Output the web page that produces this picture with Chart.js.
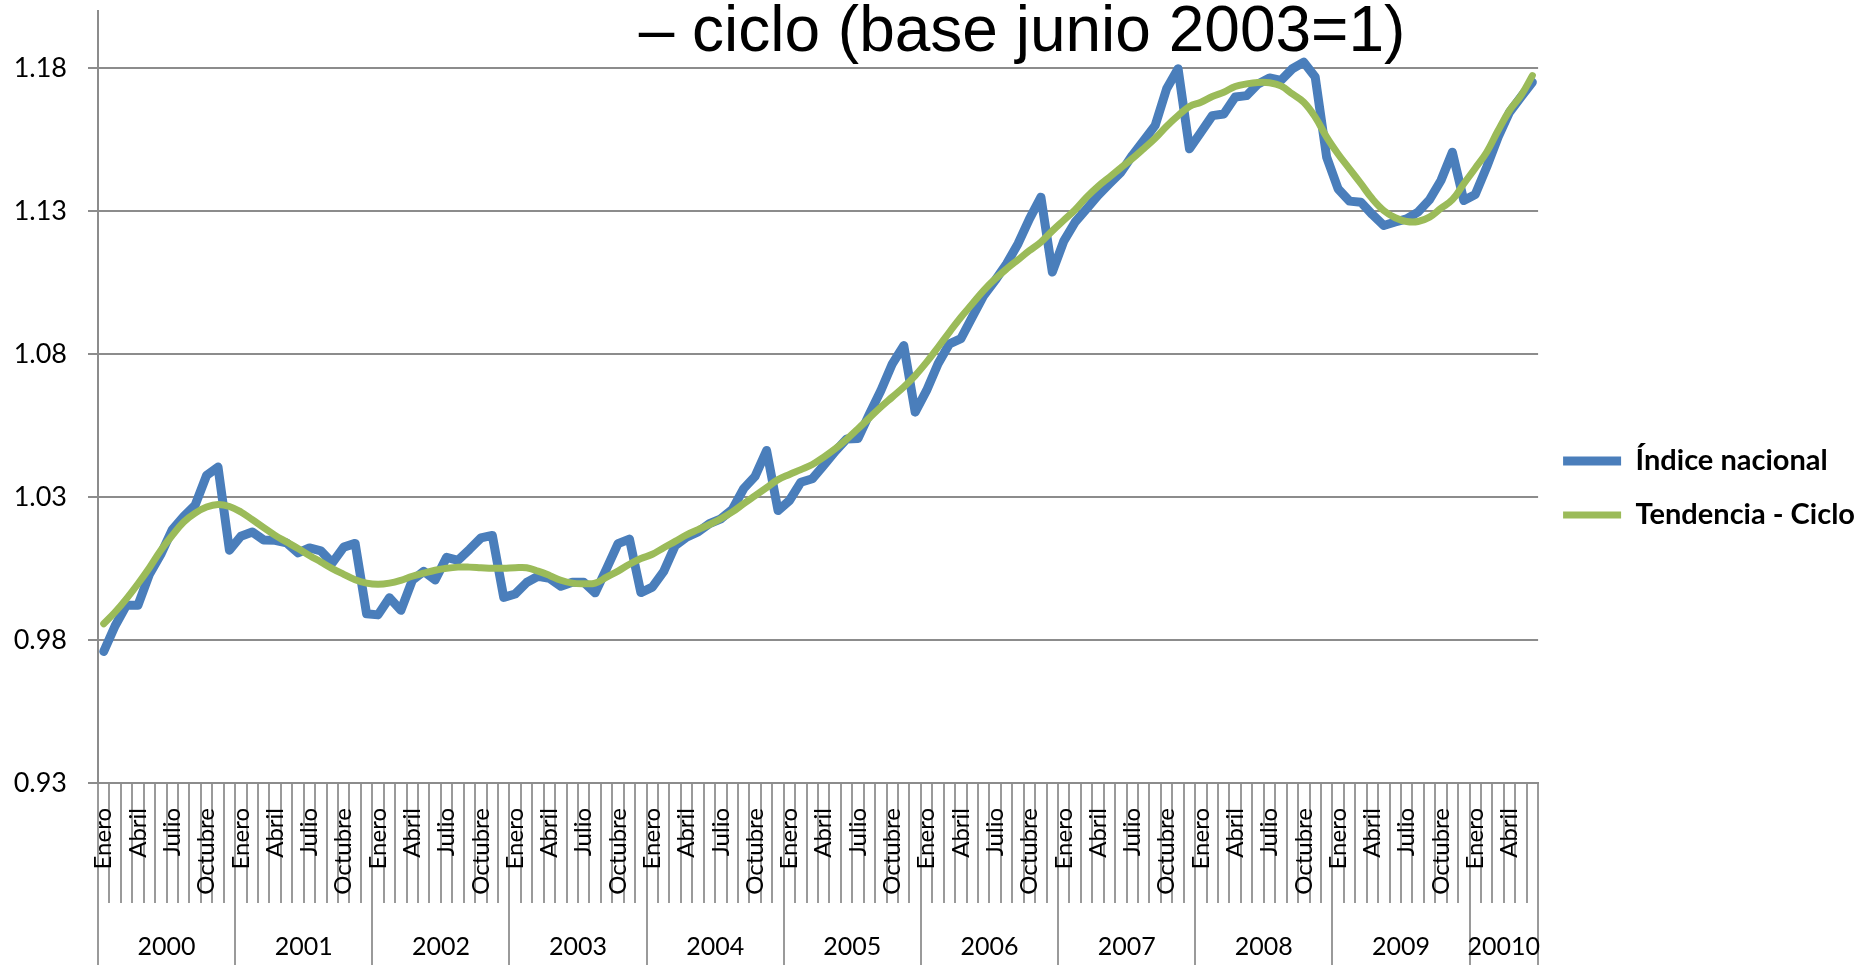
<!DOCTYPE html>
<html lang="es">
<head>
<meta charset="utf-8">
<title>Índice nacional y tendencia – ciclo</title>
<script src="https://cdn.jsdelivr.net/npm/chart.js@4.4.1/dist/chart.umd.min.js"></script>
<style>
  html, body { margin: 0; padding: 0; background: #fff; }
  #grafica { display: block; }
</style>
</head>
<body>
<canvas id="grafica" width="1868" height="965"></canvas>
<script>
var titulo = '– ciclo (base junio 2003=1)';

var anios = ['2000', '2001', '2002', '2003', '2004', '2005', '2006', '2007', '2008', '2009', '20010'];
var mesesPorAnio = [12, 12, 12, 12, 12, 12, 12, 12, 12, 12, 6];
var meses = ['Enero', 'Febrero', 'Marzo', 'Abril', 'Mayo', 'Junio', 'Julio',
             'Agosto', 'Septiembre', 'Octubre', 'Noviembre', 'Diciembre'];
var mesesVisibles = ['Enero', 'Abril', 'Julio', 'Octubre'];

var indiceNacional = [
    0.9760, 0.9850, 0.9922, 0.9922, 1.0030, 1.0100, 1.0186, 1.0232, 1.0272, 1.0376, 1.0405, 1.0114,
    1.0163, 1.0178, 1.0150, 1.0149, 1.0140, 1.0105, 1.0122, 1.0112, 1.0070, 1.0125, 1.0138, 0.9892,
    0.9888, 0.9948, 0.9904, 1.0009, 1.0040, 1.0010, 1.0089, 1.0079, 1.0117, 1.0157, 1.0166, 0.9949,
    0.9961, 1.0001, 1.0023, 1.0016, 0.9988, 1.0002, 1.0002, 0.9965, 1.0050, 1.0137, 1.0153, 0.9966,
    0.9985, 1.0040, 1.0130, 1.0160, 1.0178, 1.0207, 1.0224, 1.0257, 1.0330, 1.0373, 1.0463, 1.0253,
    1.0288, 1.0352, 1.0364, 1.0411, 1.0460, 1.0503, 1.0505, 1.0591, 1.0673, 1.0766, 1.0830, 1.0597,
    1.0673, 1.0766, 1.0836, 1.0854, 1.0930, 1.1005, 1.1058, 1.1116, 1.1186, 1.1273, 1.1349, 1.1087,
    1.1195, 1.1262, 1.1308, 1.1355, 1.1396, 1.1436, 1.1495, 1.1547, 1.1600, 1.1728, 1.1798, 1.1518,
    1.1576, 1.1634, 1.1640, 1.1699, 1.1704, 1.1745, 1.1766, 1.1757, 1.1798, 1.1821, 1.1769, 1.1489,
    1.1378, 1.1335, 1.1331, 1.1288, 1.1250, 1.1262, 1.1273, 1.1297, 1.1340, 1.1407, 1.1506, 1.1337,
    1.1358, 1.1454, 1.1559, 1.1646, 1.1699, 1.1751
];

var tendenciaCiclo = [
    0.9857, 0.9898, 0.9945, 0.9997, 1.0053, 1.0114, 1.0166, 1.0213, 1.0244, 1.0265, 1.0274, 1.0267,
    1.0248, 1.0221, 1.0193, 1.0166, 1.0143, 1.0120, 1.0096, 1.0073, 1.0050, 1.0030, 1.0011, 0.9999,
    0.9995, 0.9999, 1.0009, 1.0023, 1.0034, 1.0044, 1.0051, 1.0055, 1.0055, 1.0053, 1.0051, 1.0051,
    1.0053, 1.0053, 1.0041, 1.0026, 1.0009, 0.9999, 0.9997, 0.9999, 1.0020, 1.0041, 1.0065, 1.0085,
    1.0100, 1.0123, 1.0145, 1.0168, 1.0186, 1.0204, 1.0224, 1.0248, 1.0277, 1.0305, 1.0333, 1.0361,
    1.0379, 1.0396, 1.0414, 1.0440, 1.0469, 1.0502, 1.0539, 1.0577, 1.0615, 1.0650, 1.0685, 1.0725,
    1.0772, 1.0824, 1.0877, 1.0929, 1.0976, 1.1023, 1.1063, 1.1098, 1.1130, 1.1162, 1.1192, 1.1231,
    1.1268, 1.1305, 1.1349, 1.1387, 1.1419, 1.1452, 1.1484, 1.1519, 1.1555, 1.1597, 1.1634, 1.1666,
    1.1681, 1.1701, 1.1716, 1.1736, 1.1745, 1.1750, 1.1749, 1.1738, 1.1710, 1.1681, 1.1629, 1.1559,
    1.1500, 1.1448, 1.1396, 1.1343, 1.1302, 1.1277, 1.1264, 1.1264, 1.1279, 1.1310, 1.1340, 1.1396,
    1.1450, 1.1506, 1.1582, 1.1652, 1.1704, 1.1774
];

var ticksY = [0.93, 0.98, 1.03, 1.08, 1.13, 1.18];

// one label per month, built from the years
var etiquetas = [];
var limitesAnio = [0];
var centrosAnio = {};
var acum = 0;
anios.forEach(function (anio, k) {
    for (var m = 0; m < mesesPorAnio[k]; m++) {
        etiquetas.push(meses[m]);
    }
    centrosAnio[acum + mesesPorAnio[k] / 2] = anio;
    acum += mesesPorAnio[k];
    limitesAnio.push(acum);
});

var gris = '#8c8c8c';

// title is cut at the top in the original, only its second line shows
var tituloPlugin = {
    id: 'titulo',
    afterDraw: function (chart) {
        var ctx = chart.ctx;
        ctx.save();
        ctx.font = '64px "Liberation Sans", Arial, sans-serif';
        ctx.fillStyle = '#000';
        ctx.textAlign = 'center';
        ctx.textBaseline = 'alphabetic';
        ctx.fillText(titulo, 1022, 51);
        ctx.restore();
    }
};

Chart.defaults.font.family = 'Lato';
Chart.defaults.color = '#000';

var ctx = document.getElementById('grafica').getContext('2d');
var grafica = new Chart(ctx, {
    type: 'line',
    data: {
        labels: etiquetas,
        datasets: [{
            label: 'Índice nacional',
            data: indiceNacional,
            borderColor: '#4a7ebb',
            backgroundColor: '#4a7ebb',
            borderWidth: 9,
            borderJoinStyle: 'round',
            borderCapStyle: 'round',
            pointRadius: 0,
            tension: 0,
            order: 2
        }, {
            label: 'Tendencia - Ciclo',
            data: tendenciaCiclo,
            borderColor: '#9bbb59',
            backgroundColor: '#9bbb59',
            borderWidth: 7,
            borderJoinStyle: 'round',
            borderCapStyle: 'round',
            pointRadius: 0,
            tension: 0.4,
            order: 1
        }]
    },
    options: {
        responsive: false,
        animation: false,
        devicePixelRatio: 1,
        layout: {
            padding: {top: 11, left: 0, right: 3, bottom: 0}
        },
        scales: {
            y: {
                min: 0.93,
                max: 1.2,
                afterBuildTicks: function (scale) {
                    scale.ticks = ticksY.map(function (v) { return {value: v}; });
                },
                afterFit: function (scale) {
                    scale.width = 98;
                    scale.paddingTop = 0;
                    scale.paddingBottom = 0;
                },
                grid: {
                    color: gris,
                    lineWidth: 2,
                    tickLength: 10
                },
                border: {color: gris, width: 2},
                ticks: {
                    padding: 21,
                    font: {size: 27},
                    callback: function (value) {
                        return value.toFixed(2);
                    }
                }
            },
            x: {
                type: 'category',
                offset: true,
                weight: 0,
                afterFit: function (scale) {
                    scale.height = 120;
                },
                grid: {
                    offset: true,
                    drawOnChartArea: false,
                    tickLength: 120,
                    color: '#9a9a9a',
                    lineWidth: 2
                },
                border: {color: gris, width: 2},
                ticks: {
                    autoSkip: false,
                    minRotation: 90,
                    maxRotation: 90,
                    padding: -95,
                    font: {size: 24},
                    callback: function (value) {
                        var nombre = this.getLabelForValue(value);
                        return mesesVisibles.indexOf(nombre) >= 0 ? nombre : '';
                    }
                }
            },
            x2: {
                type: 'linear',
                position: 'bottom',
                weight: 1,
                min: 0,
                max: acum,
                afterBuildTicks: function (scale) {
                    var t = limitesAnio.map(function (v) { return {value: v}; });
                    Object.keys(centrosAnio).forEach(function (c) {
                        t.push({value: parseFloat(c)});
                    });
                    t.sort(function (a, b) { return a.value - b.value; });
                    scale.ticks = t;
                },
                afterFit: function (scale) {
                    scale.height = 62;
                },
                grid: {
                    drawOnChartArea: false,
                    tickLength: 62,
                    lineWidth: 2,
                    color: function (c) {
                        if (c.tick && limitesAnio.indexOf(c.tick.value) >= 0) {
                            return '#9a9a9a';
                        }
                        return 'rgba(0,0,0,0)';
                    }
                },
                border: {display: false},
                ticks: {
                    autoSkip: false,
                    minRotation: 0,
                    maxRotation: 0,
                    padding: -33,
                    font: {size: 25},
                    callback: function (value) {
                        return centrosAnio[value] || '';
                    }
                }
            }
        },
        plugins: {
            legend: {
                position: 'right',
                labels: {
                    usePointStyle: true,
                    pointStyle: 'line',
                    pointStyleWidth: 58,
                    padding: 25,
                    font: {size: 29, weight: 'bold'},
                    sort: function (a, b) { return a.datasetIndex - b.datasetIndex; }
                }
            },
            tooltip: {enabled: false}
        }
    },
    plugins: [tituloPlugin]
});
</script>
</body>
</html>
